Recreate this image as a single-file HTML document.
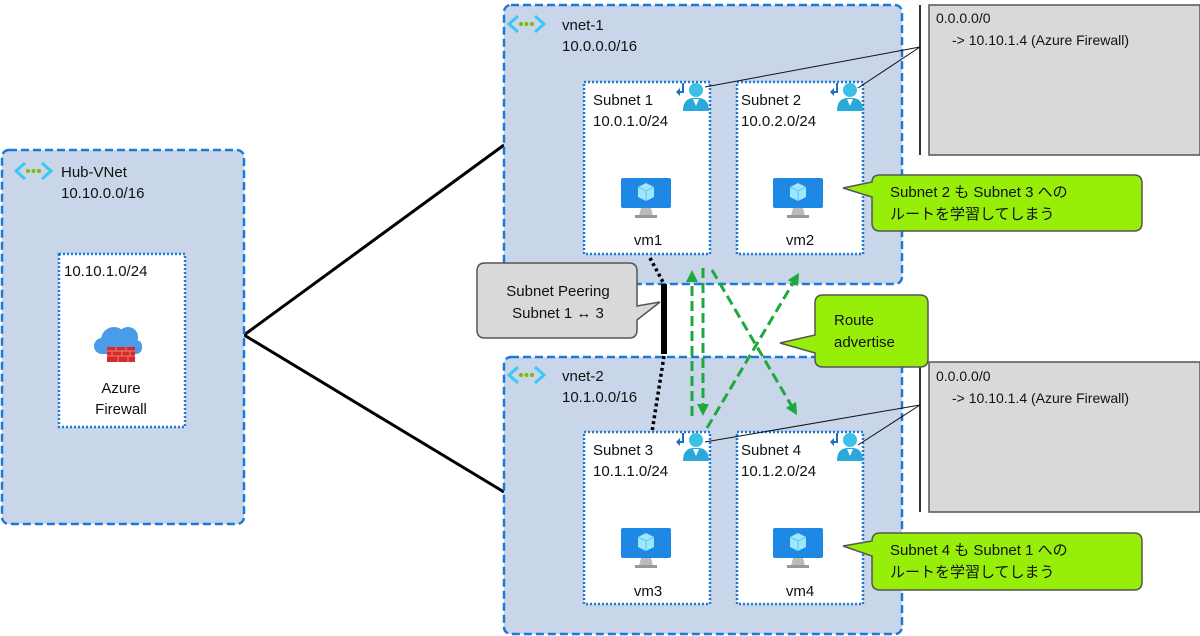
<!DOCTYPE html>
<html><head><meta charset="utf-8"><style>
html,body{margin:0;padding:0;background:#fff;}
svg{display:block;font-family:"Liberation Sans","Noto Sans CJK JP",sans-serif;}
</style></head><body>
<svg width="1200" height="636" viewBox="0 0 1200 636" xmlns="http://www.w3.org/2000/svg">
<defs>
<marker id="ga" markerWidth="12" markerHeight="12" refX="6" refY="6" orient="auto" markerUnits="userSpaceOnUse" viewBox="0 0 12 12"><path d="M0,0 L12,6 L0,12 z" fill="#1fa83c"/></marker>
<g id="vnet"><path d="M13,3 L4,11 L13,19" fill="none" stroke="#3cc8f0" stroke-width="3"/><path d="M30,3 L39,11 L30,19" fill="none" stroke="#3cc8f0" stroke-width="3"/><circle cx="16" cy="11" r="2" fill="#7fba00"/><circle cx="21.5" cy="11" r="2" fill="#7fba00"/><circle cx="27" cy="11" r="2" fill="#7fba00"/></g>
<g id="vm"><rect x="0" y="0" width="50" height="30" rx="2" fill="#1e88e5"/><path d="M25,5 L33,9 L33,19 L25,23 L17,19 L17,9 z" fill="#9fe6ff"/><path d="M17,9 L25,13 L33,9 M25,13 L25,23" stroke="#5bc8f5" stroke-width="1" fill="none"/><path d="M20,30 L30,30 L32,38 L18,38z" fill="#bbb"/><rect x="14" y="37" width="22" height="3" fill="#999"/></g>
<g id="usr"><path d="M0,0 L0,9 L-6,9" fill="none" stroke="#1e6ec8" stroke-width="2"/><path d="M-7,9 L-3,5 L-3,13z" fill="#1e6ec8"/><circle cx="13" cy="7" r="7" fill="#3cc0e8"/><path d="M0,28 Q0,14 13,15 Q26,14 26,28 z" fill="#2aa8d8"/><path d="M10,16 L13,23 L16,16z" fill="#fff"/></g>
</defs>

<line x1="244" y1="335" x2="504" y2="145" stroke="#000" stroke-width="3"/>
<line x1="244" y1="335" x2="504" y2="492" stroke="#000" stroke-width="3"/>

<rect x="2" y="150" width="242" height="374" rx="7" fill="#c9d6ea" stroke="#1a7ad6" stroke-width="2.5" stroke-dasharray="8,4"/>
<use href="#vnet" x="12" y="160"/>
<text x="61" y="177" font-size="15" fill="#111">Hub-VNet</text>
<text x="61" y="198" font-size="15" fill="#111">10.10.0.0/16</text>
<rect x="59" y="254" width="126" height="173" fill="#fff" stroke="#1a7ad6" stroke-width="2.5" stroke-dasharray="2,2"/>
<text x="64" y="276" font-size="15" fill="#111">10.10.1.0/24</text>
<circle cx="114" cy="340" r="13" fill="#4a9be8"/><circle cx="128" cy="337" r="10" fill="#4a9be8"/><circle cx="102" cy="346" r="8" fill="#4a9be8"/><rect x="98" y="340" width="44" height="14" rx="6" fill="#4a9be8"/>
<rect x="107" y="347" width="28" height="15" fill="#d62a2a"/><path d="M107,351 H135 M107,356 H135 M116,347 V351 M126,347 V351 M112,351 V356 M122,351 V356 M130,351 V356 M118,356 V362 M128,356 V362" stroke="#f08080" stroke-width="1"/>
<text x="121" y="393" font-size="15" fill="#111" text-anchor="middle">Azure</text>
<text x="121" y="414" font-size="15" fill="#111" text-anchor="middle">Firewall</text>

<rect x="504" y="5" width="398" height="279" rx="7" fill="#c9d6ea" stroke="#1a7ad6" stroke-width="2.5" stroke-dasharray="8,4"/>
<use href="#vnet" x="505" y="13"/>
<text x="562" y="30" font-size="15" fill="#111">vnet-1</text>
<text x="562" y="51" font-size="15" fill="#111">10.0.0.0/16</text>
<rect x="504" y="357" width="398" height="277" rx="7" fill="#c9d6ea" stroke="#1a7ad6" stroke-width="2.5" stroke-dasharray="8,4"/>
<use href="#vnet" x="505" y="364"/>
<text x="562" y="381" font-size="15" fill="#111">vnet-2</text>
<text x="562" y="402" font-size="15" fill="#111">10.1.0.0/16</text>

<g font-size="15" fill="#111">
<rect x="584" y="82" width="126" height="172" fill="#fff" stroke="#1a7ad6" stroke-width="2.5" stroke-dasharray="2,2"/>
<text x="593" y="105">Subnet 1</text><text x="593" y="126">10.0.1.0/24</text>
<use href="#vm" x="621" y="178"/><text x="648" y="245" text-anchor="middle">vm1</text>
<use href="#usr" x="683" y="83"/>
<rect x="737" y="82" width="126" height="172" fill="#fff" stroke="#1a7ad6" stroke-width="2.5" stroke-dasharray="2,2"/>
<text x="741" y="105">Subnet 2</text><text x="741" y="126">10.0.2.0/24</text>
<use href="#vm" x="773" y="178"/><text x="800" y="245" text-anchor="middle">vm2</text>
<use href="#usr" x="837" y="83"/>
<rect x="584" y="432" width="126" height="172" fill="#fff" stroke="#1a7ad6" stroke-width="2.5" stroke-dasharray="2,2"/>
<text x="593" y="455">Subnet 3</text><text x="593" y="476">10.1.1.0/24</text>
<use href="#vm" x="621" y="528"/><text x="648" y="596" text-anchor="middle">vm3</text>
<use href="#usr" x="683" y="433"/>
<rect x="737" y="432" width="126" height="172" fill="#fff" stroke="#1a7ad6" stroke-width="2.5" stroke-dasharray="2,2"/>
<text x="741" y="455">Subnet 4</text><text x="741" y="476">10.1.2.0/24</text>
<use href="#vm" x="773" y="528"/><text x="800" y="596" text-anchor="middle">vm4</text>
<use href="#usr" x="837" y="433"/>
</g>

<line x1="920" y1="5" x2="920" y2="155" stroke="#333" stroke-width="2"/>
<rect x="929" y="5" width="271" height="150" fill="#d9d9d9" stroke="#555" stroke-width="1.5"/>
<text x="936" y="23" font-size="14" fill="#111">0.0.0.0/0</text>
<text x="952" y="45" font-size="14" fill="#111">-&gt; 10.10.1.4 (Azure Firewall)</text>
<line x1="920" y1="47" x2="705" y2="87" stroke="#111" stroke-width="1"/>
<line x1="920" y1="47" x2="858" y2="88" stroke="#111" stroke-width="1"/>
<line x1="920" y1="362" x2="920" y2="512" stroke="#333" stroke-width="2"/>
<rect x="929" y="362" width="271" height="150" fill="#d9d9d9" stroke="#555" stroke-width="1.5"/>
<text x="936" y="381" font-size="14" fill="#111">0.0.0.0/0</text>
<text x="952" y="403" font-size="14" fill="#111">-&gt; 10.10.1.4 (Azure Firewall)</text>
<line x1="920" y1="405" x2="705" y2="442" stroke="#111" stroke-width="1"/>
<line x1="920" y1="405" x2="858" y2="445" stroke="#111" stroke-width="1"/>

<line x1="650" y1="258" x2="664" y2="284" stroke="#000" stroke-width="3.5" stroke-dasharray="3,3"/>
<line x1="664" y1="284" x2="664" y2="354" stroke="#000" stroke-width="6"/>
<line x1="664" y1="356" x2="652" y2="432" stroke="#000" stroke-width="3.5" stroke-dasharray="3,3"/>
<path d="M485,263 H629 Q637,263 637,271 V306 L660,302 L637,320 V330 Q637,338 629,338 H485 Q477,338 477,330 V271 Q477,263 485,263 Z" fill="#d9d9d9" stroke="#555" stroke-width="1.5"/>
<text x="558" y="296" font-size="15" fill="#111" text-anchor="middle">Subnet Peering</text>
<text x="558" y="318" font-size="15" fill="#111" text-anchor="middle">Subnet 1 ↔ 3</text>

<g stroke="#1fa83c" stroke-width="3" stroke-dasharray="10,5" fill="none">
<line x1="692" y1="416" x2="692" y2="276" marker-end="url(#ga)"/>
<line x1="703" y1="268" x2="703" y2="410" marker-end="url(#ga)"/>
<line x1="712" y1="270" x2="794" y2="410" marker-end="url(#ga)"/>
<line x1="707" y1="428" x2="796" y2="278" marker-end="url(#ga)"/>
</g>

<path d="M823,295 H920 Q928,295 928,303 V359 Q928,367 920,367 H823 Q815,367 815,359 V353 L780,343 L815,335 V303 Q815,295 823,295 Z" fill="#97ef09" stroke="#555" stroke-width="1.5"/>
<text x="834" y="325" font-size="15" fill="#111">Route</text>
<text x="834" y="347" font-size="15" fill="#111">advertise</text>

<path d="M880,175 H1134 Q1142,175 1142,183 V223 Q1142,231 1134,231 H880 Q872,231 872,223 V197 L843,188 L872,182 Q872,175 880,175 Z" fill="#97ef09" stroke="#555" stroke-width="1.5"/>
<text x="890" y="197" font-size="15" fill="#111">Subnet 2 も Subnet 3 への</text>
<text x="890" y="219" font-size="15" fill="#111">ルートを学習してしまう</text>
<path d="M880,533 H1134 Q1142,533 1142,541 V582 Q1142,590 1134,590 H880 Q872,590 872,582 V556 L843,546 L872,541 Q872,533 880,533 Z" fill="#97ef09" stroke="#555" stroke-width="1.5"/>
<text x="890" y="555" font-size="15" fill="#111">Subnet 4 も Subnet 1 への</text>
<text x="890" y="577" font-size="15" fill="#111">ルートを学習してしまう</text>
</svg>
</body></html>
